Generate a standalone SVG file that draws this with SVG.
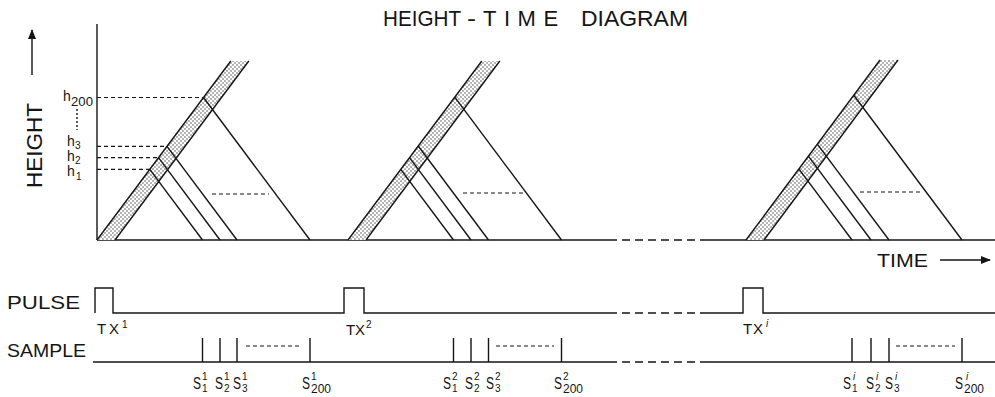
<svg xmlns="http://www.w3.org/2000/svg" width="995" height="397" viewBox="0 0 995 397">
<style>
.ln{stroke:#151515;stroke-width:1.4;fill:none}
.dsh{stroke:#151515;stroke-width:1.2;fill:none;stroke-dasharray:4 3}
.brk{stroke:#151515;stroke-width:1.4;fill:none;stroke-dasharray:8 5}
.band{fill:url(#dots);stroke:none}
.t{font-family:"Liberation Sans",Arial,sans-serif;fill:#151515}
.s{font-size:16px}
.sup{font-size:10px}
</style>
<defs>
<pattern id="dots" width="4" height="4" patternUnits="userSpaceOnUse">
<rect width="4" height="4" fill="#fff"/>
<circle cx="1" cy="1" r="0.7" fill="#333"/>
<circle cx="3" cy="3" r="0.7" fill="#333"/>
</pattern>
<marker id="ah" viewBox="0 0 10 10" refX="9" refY="5" markerWidth="10" markerHeight="8" orient="auto" markerUnits="userSpaceOnUse" preserveAspectRatio="none">
<path d="M0,0 L10,5 L0,10 z" fill="#151515"/>
</marker>
</defs>
<rect width="995" height="397" fill="#fff"/>

<g id="title">
<text class="t" x="383" y="26" font-size="22" textLength="78" lengthAdjust="spacingAndGlyphs">HEIGHT</text>
<text class="t" x="467" y="26" font-size="22" textLength="9" lengthAdjust="spacingAndGlyphs">-</text>
<text class="t" x="483" y="26" font-size="22" letter-spacing="7.5">TIME</text>
<text class="t" x="581" y="26" font-size="22" textLength="107" lengthAdjust="spacingAndGlyphs">DIAGRAM</text>
</g>

<g id="height-axis">
<text class="t" font-size="22" transform="translate(42,188) rotate(-90)" textLength="85" lengthAdjust="spacingAndGlyphs">HEIGHT</text>
<line class="ln" x1="32" y1="75" x2="32" y2="30" marker-end="url(#ah)"/>
<line class="ln" x1="97" y1="24" x2="97" y2="240"/>
</g>

<g id="height-labels">
<text class="t" x="63" y="101" font-size="14">h</text>
<text class="t" x="71" y="106" font-size="12" textLength="22" lengthAdjust="spacingAndGlyphs">200</text>
<line class="ln" x1="77" y1="109" x2="77" y2="130" stroke-dasharray="2 2" stroke-width="1.2"/>
<text class="t" x="67" y="146" font-size="14">h</text>
<text class="t" x="75" y="149" font-size="10">3</text>
<text class="t" x="67" y="161" font-size="14">h</text>
<text class="t" x="75" y="164" font-size="10">2</text>
<text class="t" x="67" y="175.5" font-size="14">h</text>
<text class="t" x="76" y="180" font-size="10">1</text>
</g>

<g id="time-axis">
<line class="ln" x1="97" y1="240" x2="617" y2="240"/>
<line class="brk" x1="622" y1="240" x2="707" y2="240"/>
<line class="ln" x1="707" y1="240" x2="995" y2="240"/>
<text class="t" x="877" y="267" font-size="19" textLength="51" lengthAdjust="spacingAndGlyphs">TIME</text>
<line class="ln" x1="940" y1="260" x2="990" y2="260" marker-end="url(#ah)"/>
</g>

<g id="sweep-1">
<polygon class="band" points="97,240 115,240 248.8,61 230.8,61"/>
<line class="ln" x1="97" y1="240" x2="230.8" y2="61"/>
<line class="ln" x1="115" y1="240" x2="248.8" y2="61"/>
<line class="ln" x1="149.75" y1="169.4" x2="202.5" y2="240"/>
<line class="ln" x1="158.5" y1="157.7" x2="220" y2="240"/>
<line class="ln" x1="167" y1="146.3" x2="237" y2="240"/>
<line class="ln" x1="203.5" y1="97.5" x2="310" y2="240"/>
<line class="dsh" x1="97" y1="169.4" x2="149.75" y2="169.4"/>
<line class="dsh" x1="97" y1="157.7" x2="158.5" y2="157.7"/>
<line class="dsh" x1="97" y1="146.3" x2="167" y2="146.3"/>
<line class="dsh" x1="97" y1="97.5" x2="203.5" y2="97.5"/>
<line class="dsh" x1="212" y1="194" x2="269" y2="194"/>
</g>

<g id="sweep-2">
<polygon class="band" points="348,240 366,240 499.8,61 481.8,61"/>
<line class="ln" x1="348" y1="240" x2="481.8" y2="61"/>
<line class="ln" x1="366" y1="240" x2="499.8" y2="61"/>
<line class="ln" x1="400.75" y1="169.4" x2="453.5" y2="240"/>
<line class="ln" x1="409.5" y1="157.7" x2="471" y2="240"/>
<line class="ln" x1="418.25" y1="146" x2="488.5" y2="240"/>
<line class="ln" x1="454.75" y1="97.2" x2="561.5" y2="240"/>
<line class="dsh" x1="463" y1="193" x2="523" y2="193"/>
</g>

<g id="sweep-i">
<polygon class="band" points="746,240 764,240 898,60 880,60"/>
<line class="ln" x1="746" y1="240" x2="880" y2="60"/>
<line class="ln" x1="764" y1="240" x2="898" y2="60"/>
<line class="ln" x1="799" y1="169.1" x2="852" y2="240"/>
<line class="ln" x1="808.5" y1="156.4" x2="871" y2="240"/>
<line class="ln" x1="817.5" y1="144.3" x2="889" y2="240"/>
<line class="ln" x1="854" y1="95.5" x2="962" y2="240"/>
<line class="dsh" x1="860" y1="192" x2="920" y2="192"/>
</g>

<g id="pulse">
<text class="t" x="7" y="309" font-size="19" textLength="73" lengthAdjust="spacingAndGlyphs">PULSE</text>
<path class="ln" d="M95,313 V288 H113 V313 H344 V288 H364 V313 H617"/>
<line class="brk" x1="622" y1="313" x2="707" y2="313"/>
<path class="ln" d="M707,313 H743 V288 H763 V313 H995"/>
<text class="t" x="97" y="334" font-size="15" textLength="22" lengthAdjust="spacing">TX</text>
<text class="t" x="122" y="328" font-size="10">1</text>
<text class="t" x="346" y="335" font-size="15" textLength="19" lengthAdjust="spacing">TX</text>
<text class="t" x="366" y="328" font-size="10">2</text>
<text class="t" x="743" y="334" font-size="15" textLength="20" lengthAdjust="spacing">TX</text>
<text class="t" x="766" y="327" font-size="10" font-style="italic">i</text>
</g>

<g id="sample">
<text class="t" x="7" y="357" font-size="19" textLength="79" lengthAdjust="spacingAndGlyphs">SAMPLE</text>
<line class="ln" x1="93" y1="362" x2="617" y2="362"/>
<line class="brk" x1="622" y1="362" x2="707" y2="362"/>
<line class="ln" x1="707" y1="362" x2="995" y2="362"/>
<path class="ln" d="M202.5,338 V362 M220,338 V362 M237,338 V362 M310,338 V362 M453.5,338 V362 M471,338 V362 M488.5,338 V362 M561.5,338 V362 M852,338 V362 M871,338 V362 M889,338 V362 M962,338 V362"/>
<line class="dsh" x1="246" y1="346" x2="302" y2="346"/>
<line class="dsh" x1="496" y1="346" x2="554" y2="346"/>
<line class="dsh" x1="896" y1="346" x2="955" y2="346"/>
</g>

<g id="sample-labels">
<text class="t s" x="193" y="389" textLength="8" lengthAdjust="spacingAndGlyphs">S</text><text class="t sup" x="202" y="380">1</text><text class="t sup" x="202" y="392">1</text>
<text class="t s" x="215" y="389" textLength="8" lengthAdjust="spacingAndGlyphs">S</text><text class="t sup" x="224" y="380">1</text><text class="t sup" x="224" y="392">2</text>
<text class="t s" x="233" y="389" textLength="8" lengthAdjust="spacingAndGlyphs">S</text><text class="t sup" x="242" y="380">1</text><text class="t sup" x="242" y="392">3</text>
<text class="t s" x="302" y="389" textLength="8" lengthAdjust="spacingAndGlyphs">S</text><text class="t sup" x="311" y="380">1</text><text class="t" x="311" y="393" font-size="12">200</text>

<text class="t s" x="443" y="389" textLength="8" lengthAdjust="spacingAndGlyphs">S</text><text class="t sup" x="452" y="380">2</text><text class="t sup" x="452" y="392">1</text>
<text class="t s" x="465" y="389" textLength="8" lengthAdjust="spacingAndGlyphs">S</text><text class="t sup" x="474" y="380">2</text><text class="t sup" x="474" y="392">2</text>
<text class="t s" x="486" y="389" textLength="8" lengthAdjust="spacingAndGlyphs">S</text><text class="t sup" x="495" y="380">2</text><text class="t sup" x="495" y="392">3</text>
<text class="t s" x="554" y="389" textLength="8" lengthAdjust="spacingAndGlyphs">S</text><text class="t sup" x="563" y="380">2</text><text class="t" x="563" y="393" font-size="12">200</text>

<text class="t s" x="843" y="389" textLength="8" lengthAdjust="spacingAndGlyphs">S</text><text class="t sup" x="853" y="380" font-style="italic">i</text><text class="t sup" x="852" y="392">1</text>
<text class="t s" x="866" y="389" textLength="8" lengthAdjust="spacingAndGlyphs">S</text><text class="t sup" x="876" y="380" font-style="italic">i</text><text class="t sup" x="875" y="392">2</text>
<text class="t s" x="885" y="389" textLength="8" lengthAdjust="spacingAndGlyphs">S</text><text class="t sup" x="895" y="380" font-style="italic">i</text><text class="t sup" x="894" y="392">3</text>
<text class="t s" x="955" y="389" textLength="8" lengthAdjust="spacingAndGlyphs">S</text><text class="t sup" x="966" y="380" font-style="italic">i</text><text class="t" x="964" y="393" font-size="12">200</text>
</g>
</svg>
